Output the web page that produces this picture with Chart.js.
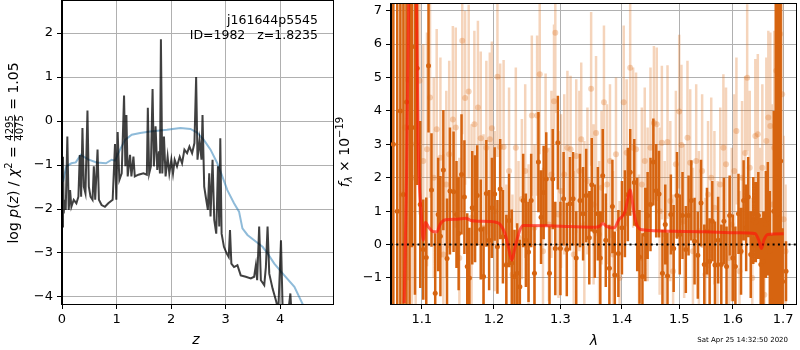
<!DOCTYPE html>
<html>
<head>
<meta charset="utf-8">
<script src="https://cdn.jsdelivr.net/npm/chart.js@4/dist/chart.umd.min.js"></script>
<style>
  body { margin: 0; background: #fff; }
  #wrap { position: relative; width: 800px; height: 350px; }
  #wrap canvas { position: absolute; top: 0; }
</style>
</head>
<body>
<div id="wrap">
  <canvas id="pzChart" width="340" height="350" style="left:0"></canvas>
  <canvas id="specChart" width="470" height="350" style="left:330px"></canvas>
</div>
<script>
// left panel: log p(z) (black) and the smooth curve (blue)
const zGrid = [0.006,0.018,0.031,0.049,0.068,0.098,0.123,0.148,0.172,0.215,
  0.264,0.301,0.326,0.351,0.375,0.400,0.430,0.467,0.492,0.523,
  0.560,0.584,0.609,0.652,0.677,0.726,0.787,0.849,0.929,0.972,
  0.996,1.021,1.052,1.095,1.138,1.162,1.181,1.205,1.248,1.273,
  1.310,1.335,1.402,1.494,1.556,1.574,1.599,1.630,1.661,1.685,
  1.716,1.747,1.777,1.796,1.814,1.839,1.870,1.900,1.937,1.968,
  2.005,2.036,2.066,2.109,2.159,2.202,2.245,2.294,2.337,2.386,
  2.429,2.460,2.485,2.522,2.558,2.577,2.608,2.645,2.675,2.700,
  2.724,2.761,2.792,2.829,2.860,2.884,2.903,2.927,2.970,3.020,
  3.057,3.081,3.106,3.155,3.217,3.278,3.370,3.463,3.524,3.555,
  3.579,3.616,3.647,3.709,3.739,3.770,3.801,3.862,3.924,3.967,
  4.016,4.047,4.139,4.188,4.213];
const logpz = [-2.40,-0.81,-2.10,-1.79,-2.02,-0.35,-2.02,-1.57,-1.95,-1.79,
  -1.87,-1.72,-0.77,-1.72,-0.16,-1.49,-1.64,0.24,-1.49,-1.72,
  -1.79,-1.03,-1.79,-0.65,-1.79,-1.91,-1.95,-1.87,-1.79,-0.52,
  -1.79,-0.25,-1.34,-1.19,0.58,-1.03,0.14,-1.26,-0.77,-1.26,
  -0.81,-1.26,-1.22,-1.19,-1.22,0.30,-1.19,-1.03,0.73,-1.03,
  -0.12,-1.11,-0.69,-1.19,1.86,-1.19,-0.35,-1.26,-0.81,-1.19,
  -0.88,-1.19,-0.88,-1.03,-0.81,-0.96,-0.65,-0.73,-0.58,-0.73,
  -0.50,1.00,-0.88,-0.43,-0.88,0.14,-1.49,-1.79,-2.02,-1.19,
  -2.17,-0.88,-2.25,-2.56,-1.03,-2.40,-0.39,-2.56,-2.86,-3.01,
  -3.09,-2.48,-3.24,-3.32,-3.28,-3.51,-3.54,-3.58,-3.54,-3.28,
  -3.62,-2.40,-3.62,-3.73,-3.32,-2.40,-3.47,-3.81,-4.08,-4.30,
  -2.71,-4.30,-4.46,-3.92,-4.46];
const zSmooth = [0.018,0.080,0.172,0.252,0.344,0.480,0.633,0.806,0.910,0.972,
  1.064,1.156,1.279,1.433,1.617,1.925,2.171,2.355,2.478,2.601,
  2.724,2.848,2.940,3.032,3.155,3.247,3.309,3.401,3.524,3.678,
  3.770,3.893,4.077,4.262,4.416,4.480];
const logSmooth = [-1.38,-1.03,-0.96,-0.94,-0.77,-0.87,-0.94,-0.96,-0.88,-0.90,
  -0.65,-0.43,-0.31,-0.27,-0.24,-0.20,-0.16,-0.18,-0.26,-0.43,
  -0.65,-0.96,-1.26,-1.57,-1.87,-2.06,-2.44,-2.59,-2.71,-2.86,
  -3.01,-3.24,-3.51,-3.77,-4.17,-4.30];
const zTicks = [0, 1, 2, 3, 4];
const pzTicks = [-4, -3, -2, -1, 0, 1, 2];

// right panel: spectrum (dark and light error bars) and model
const lamDark = [1.063,1.068,1.072,1.076,1.080,1.084,1.087,1.091,1.094,1.098,
  1.102,1.106,1.109,1.113,1.118,1.122,1.125,1.129,1.134,1.138,
  1.143,1.147,1.150,1.154,1.158,1.162,1.165,1.169,1.173,1.176,
  1.181,1.185,1.189,1.193,1.197,1.201,1.205,1.209,1.213,1.218,
  1.222,1.226,1.230,1.234,1.238,1.243,1.247,1.251,1.255,1.260,
  1.266,1.270,1.274,1.278,1.283,1.288,1.292,1.296,1.300,1.305,
  1.310,1.315,1.320,1.325,1.331,1.336,1.341,1.346,1.350,1.355,
  1.360,1.364,1.368,1.373,1.379,1.384,1.388,1.394,1.400,1.405,
  1.410,1.414,1.421,1.426,1.430,1.435,1.440,1.444,1.449,1.454,
  1.459,1.464,1.470,1.475,1.479,1.485,1.490,1.496,1.501,1.506,
  1.512,1.517,1.522,1.528,1.534,1.540,1.546,1.551,1.556,1.561,
  1.566,1.572,1.578,1.583,1.588,1.594,1.600,1.605,1.611,1.616,
  1.621,1.626,1.630,1.635,1.640,1.645,1.650,1.655,1.660,1.665,
  1.669,1.673,1.677,1.681,1.685,1.689,1.692,1.695,1.699,1.706];
const fluxDark = [3.0,1.0,4.0,1.50,4.27,3.5,5.92,3.5,5.28,1.2,
  -0.15,-0.39,5.35,1.63,-1.46,0.9,0.25,2.23,-0.42,1.6,
  1.58,0.9,0.33,2.1,1.42,-0.66,-1.0,1.1,1.07,1.47,
  0.45,-0.96,1.53,0.13,1.1,1.51,-0.07,1.66,0.23,-0.61,
  0.72,-0.55,-0.96,-0.86,-1.26,1.32,0.13,-0.22,1.32,-0.86,
  2.47,0.82,1.56,1.96,-0.86,1.96,-0.12,3.05,-0.12,1.37,
  -0.15,1.22,1.37,-0.4,1.32,0.92,1.47,0.2,1.79,0.4,
  0.92,-0.4,2.06,0.13,-0.71,1.14,-0.91,-0.27,0.5,0.92,
  1.5,2.16,1.86,0.6,-0.37,-0.96,0.3,0.87,1.2,2.47,
  1.61,1.51,-0.86,0.6,-0.94,0.9,-0.12,1.47,0.3,0.87,
  -0.15,0.87,1.32,0.1,-0.32,1.24,-0.6,0.4,-0.51,0.7,
  -0.61,0.13,-0.6,0.7,-0.66,0.87,-0.4,-0.66,0.92,-0.2,
  1.32,0.5,1.42,-0.3,0.72,0.67,0.87,-0.6,-0.51,0.6,
  0.77,-0.2,-1.70,1.0,2.0,0.92,5.92,2.5,-1.11,-0.8];
const errDark = [12,12,10,8,8,6,6,5,3.5,2.5,
  1.5,1.8,2.0,1.7,1.8,1.7,1.8,1.8,1.8,1.9,
  1.8,1.6,1.7,1.8,1.7,1.6,1.5,1.7,1.6,1.5,
  1.5,1.5,1.6,1.5,1.5,1.4,1.4,1.5,1.4,1.5,
  1.4,1.6,1.4,1.5,1.4,1.4,1.4,1.5,1.4,1.4,
  1.5,1.4,1.4,1.4,1.4,1.5,1.4,1.4,1.4,1.4,
  1.4,1.4,1.4,1.4,1.4,1.4,1.4,1.4,1.4,1.4,
  1.4,1.4,1.4,1.4,1.3,1.4,1.3,1.3,1.4,1.3,
  1.4,1.3,1.3,1.4,1.4,1.3,1.4,1.3,1.4,1.3,
  1.4,1.3,1.3,1.2,1.3,1.2,1.3,1.3,1.2,1.3,
  1.3,1.2,1.2,1.3,1.3,1.3,1.2,1.3,1.3,1.2,
  1.3,1.3,1.2,1.3,1.2,1.2,1.3,1.2,1.2,1.3,
  1.2,1.3,1.2,1.3,1.3,1.2,1.3,1.4,1.5,1.6,
  1.7,1.8,2.0,3,6,8,10,12,1.6,0.9];

const lamLight = [1.074,1.078,1.082,1.087,1.092,1.097,1.102,1.107,1.111,1.116,
  1.120,1.125,1.129,1.133,1.137,1.142,1.146,1.151,1.155,1.159,
  1.164,1.168,1.172,1.177,1.181,1.185,1.189,1.194,1.197,1.201,
  1.205,1.209,1.214,1.218,1.222,1.227,1.232,1.236,1.241,1.246,
  1.251,1.256,1.260,1.264,1.268,1.273,1.277,1.282,1.286,1.290,
  1.292,1.297,1.301,1.306,1.311,1.316,1.321,1.325,1.330,1.333,
  1.338,1.343,1.349,1.353,1.357,1.362,1.366,1.370,1.375,1.380,
  1.385,1.390,1.396,1.403,1.408,1.414,1.419,1.424,1.429,1.434,
  1.439,1.444,1.449,1.455,1.460,1.465,1.469,1.474,1.479,1.484,
  1.489,1.494,1.500,1.504,1.509,1.515,1.520,1.525,1.531,1.536,
  1.542,1.548,1.553,1.559,1.565,1.571,1.576,1.582,1.587,1.593,
  1.598,1.603,1.607,1.613,1.618,1.624,1.628,1.633,1.638,1.644,
  1.649,1.654,1.658,1.662,1.666,1.670,1.674,1.678,1.682,1.686,
  1.690,1.694,1.698,1.701,1.705];
const fluxLight = [1.5,3.5,4.93,2.0,3.0,4.9,2.5,2.85,4.4,2.0,
  3.45,2.6,-0.3,1.8,2.7,3.74,3.5,-0.4,6.1,4.39,
  4.58,0.8,3.6,4.1,3.18,0.5,2.9,3.15,3.48,1.0,
  5.02,2.92,2.92,-0.6,2.2,-0.9,2.9,0.2,1.36,2.2,
  0.0,3.86,0.5,3.86,5.1,-0.2,2.82,0.6,2.1,4.29,
  6.34,0.9,1.6,2.1,2.9,2.85,-0.3,2.65,2.2,3.15,
  0.6,1.9,4.66,1.2,3.34,0.3,1.7,4.26,1.8,2.5,
  -0.3,2.7,-1.0,4.26,2.75,5.29,2.9,2.85,-0.4,1.8,
  2.5,1.2,2.9,3.64,3.6,1.0,3.05,0.3,3.07,1.3,
  -0.8,2.4,3.98,2.98,0.7,3.2,2.45,-0.2,2.5,0.4,
  2.2,-0.9,1.5,2.0,1.1,-0.6,1.8,2.9,2.4,-0.4,
  0.6,2.2,3.4,-0.8,2.0,2.74,4.99,2.3,-1.0,3.25,
  3.3,0.5,2.3,-1.5,3.1,3.8,3.55,1.2,2.9,5.2,
  3.3,6.3,4.5,0.76,-0.2];
const errLight = [6,7,6,6,5,4,3.5,3.5,3.0,3.0,
  3.0,3.0,3.0,2.8,2.8,2.8,3.0,3.0,2.8,2.6,
  2.6,2.8,2.8,2.6,2.6,2.8,2.6,2.6,2.6,2.4,
  2.4,2.5,2.6,2.4,2.5,2.4,2.4,2.3,2.4,2.6,
  2.4,2.4,2.5,2.4,2.4,2.5,2.3,2.3,2.5,2.3,
  2.4,2.5,2.3,2.4,2.3,2.2,2.5,2.3,2.4,2.3,
  2.5,2.2,2.3,2.4,2.3,2.2,2.3,2.3,2.4,2.3,
  2.5,2.3,2.3,2.3,2.2,2.3,2.4,2.3,2.5,2.3,
  2.2,2.3,2.4,2.3,2.3,2.5,2.3,2.2,2.3,2.4,
  2.3,2.2,2.3,2.4,2.3,2.3,2.2,2.5,2.3,2.4,
  2.3,2.3,2.2,2.4,2.3,2.5,2.3,2.2,2.3,2.4,
  2.3,2.3,2.2,2.4,2.3,2.3,2.2,2.3,2.4,2.3,
  2.4,2.4,2.5,2.5,2.5,2.6,2.8,3.0,3.5,4.5,
  6,8,8,2.5,2.0];

const lamModel = [1.077,1.080,1.083,1.088,1.093,1.095,1.0996,1.102,1.105,1.109,
  1.116,1.120,1.125,1.132,1.148,1.160,1.167,1.176,1.194,1.204,
  1.209,1.216,1.221,1.226,1.231,1.238,1.243,1.284,1.314,1.357,
  1.363,1.368,1.374,1.380,1.387,1.395,1.405,1.409,1.414,1.417,
  1.423,1.432,1.490,1.549,1.611,1.643,1.651,1.656,1.661,1.669,
  1.701];
const fluxModel = [-1.75,2.0,7.5,9.0,7.5,3.3,0.82,0.13,0.67,0.52,
  0.38,0.38,0.62,0.74,0.76,0.79,0.72,0.70,0.69,0.66,
  0.60,0.33,-0.07,-0.47,-0.07,0.43,0.57,0.56,0.54,0.52,
  0.55,0.63,0.55,0.50,0.50,0.75,0.97,1.30,1.64,1.35,
  0.72,0.45,0.40,0.38,0.35,0.33,0.13,-0.12,0.13,0.30,
  0.32];
const lamTicks = [1.1, 1.2, 1.3, 1.4, 1.5, 1.6, 1.7];
const fluxTicks = [-1, 0, 1, 2, 3, 4, 5, 6, 7];

const FONT = 'DejaVu Sans';
Chart.defaults.font.family = FONT;
Chart.defaults.color = '#000';

const minus = v => String(v).replace('-', '\u2212');
const gridOpts = { color: '#b0b0b0', lineWidth: 1, tickColor: '#000', tickLength: 5 };
const borderOpts = { display: true, color: '#000', width: 1 };

function xy(xs, ys) {
  return xs.map((x, i) => ({ x: x, y: ys[i] }));
}

function errorBars(xs, ys, es) {
  const pts = [];
  xs.forEach((x, i) => {
    pts.push({ x: x, y: ys[i] - es[i] }, { x: x, y: ys[i] + es[i] }, { x: x, y: null });
  });
  return pts;
}

// keep the plot box exactly where the axis sizes put it
function fitX(s) { s.height = 46; s.paddingLeft = 0; s.paddingRight = 0; }
function fitY(w) { return s => { s.width = w; s.paddingTop = 0; s.paddingBottom = 0; }; }

function runsWidth(ctx, runs) {
  let w = 0;
  for (const r of runs) {
    ctx.font = r.font;
    if (r.num) w += Math.max(ctx.measureText(r.num).width, ctx.measureText(r.den).width) + 2;
    else w += ctx.measureText(r.text).width;
  }
  return w;
}

// draws a rotated label made of styled pieces, centred on y
function drawVerticalRuns(ctx, runs, x, y) {
  ctx.save();
  ctx.translate(x, y);
  ctx.rotate(-Math.PI / 2);
  ctx.fillStyle = '#000';
  ctx.textBaseline = 'alphabetic';
  let tx = -runsWidth(ctx, runs) / 2;
  for (const r of runs) {
    ctx.font = r.font;
    if (r.num) {
      const w = Math.max(ctx.measureText(r.num).width, ctx.measureText(r.den).width) + 2;
      ctx.textAlign = 'center';
      ctx.fillText(r.num, tx + w / 2, -5);
      ctx.fillText(r.den, tx + w / 2, 5);
      ctx.fillRect(tx + 0.5, -4, w - 1, 0.8);
      ctx.textAlign = 'left';
      tx += w;
    } else {
      ctx.textAlign = 'left';
      ctx.fillText(r.text, tx, r.dy || 0);
      tx += ctx.measureText(r.text).width;
    }
  }
  ctx.restore();
}

function drawFrame(chart) {
  const { ctx, chartArea: a } = chart;
  ctx.save();
  ctx.strokeStyle = '#000';
  ctx.lineWidth = 1;
  ctx.strokeRect(Math.round(a.left) - 0.5, Math.round(a.top) - 0.5,
    Math.round(a.right - a.left) + 1, Math.round(a.bottom - a.top) + 1);
  ctx.restore();
}

const N14 = '14px ' + FONT, I14 = 'italic 14px ' + FONT;
const N10 = '10px ' + FONT, I10 = 'italic 10px ' + FONT;

const pzLabels = {
  id: 'pzLabels',
  afterDraw(chart) {
    const ctx = chart.ctx;
    drawFrame(chart);
    drawVerticalRuns(ctx, [
      { text: 'log ', font: N14 }, { text: 'p', font: I14 }, { text: '(', font: N14 },
      { text: 'z', font: I14 }, { text: ') / ', font: N14 }, { text: '\u03c7', font: I14 },
      { text: '2', font: N10, dy: -6 }, { text: ' = ', font: N14 },
      { num: '4295', den: '4075', font: N10 }, { text: ' = 1.05', font: N14 }
    ], 18, 153);
    ctx.save();
    ctx.fillStyle = '#000';
    ctx.font = I14;
    ctx.textAlign = 'center';
    ctx.fillText('z', 196, 344);
    ctx.font = '12.5px ' + FONT;
    ctx.textAlign = 'right';
    ctx.fillText('j161644p5545', 318, 24);
    ctx.fillText('ID=1982   z=1.8235', 318, 39);
    ctx.restore();
  }
};

const specLabels = {
  id: 'specLabels',
  afterDraw(chart) {
    const ctx = chart.ctx;
    drawFrame(chart);
    drawVerticalRuns(ctx, [
      { text: 'f', font: I14 }, { text: '\u03bb', font: I10, dy: 3 },
      { text: ' \u00d7 10', font: N14 }, { text: '\u221219', font: N10, dy: -6 }
    ], 19, 152);
    ctx.save();
    ctx.fillStyle = '#000';
    ctx.font = I14;
    ctx.textAlign = 'center';
    ctx.fillText('\u03bb', 264, 345);
    ctx.font = '7px ' + FONT;
    ctx.textAlign = 'right';
    ctx.fillText('Sat Apr 25 14:32:50 2020', 458, 342);
    ctx.restore();
  }
};

new Chart(document.getElementById('pzChart'), {
  type: 'line',
  data: {
    datasets: [
      { data: xy(zGrid, logpz), borderColor: 'rgba(0,0,0,0.75)', borderWidth: 2,
        pointRadius: 0, order: 0 },
      { data: xy(zSmooth, logSmooth), borderColor: 'rgba(31,119,180,0.5)', borderWidth: 2,
        pointRadius: 0, order: 1 }
    ]
  },
  options: {
    responsive: false,
    animation: false,
    layout: { padding: { top: 1, right: 7, left: 0, bottom: 0 } },
    plugins: { legend: { display: false }, tooltip: { enabled: false } },
    scales: {
      x: {
        type: 'linear', min: 0, max: 4.97,
        afterBuildTicks: s => { s.ticks = zTicks.map(v => ({ value: v })); },
        afterFit: fitX,
        grid: gridOpts, border: borderOpts,
        ticks: { font: { size: 13 }, padding: 3, maxRotation: 0, callback: minus }
      },
      y: {
        min: -4.16, max: 2.73,
        afterBuildTicks: s => { s.ticks = pzTicks.map(v => ({ value: v })); },
        afterFit: fitY(62),
        grid: gridOpts, border: borderOpts,
        ticks: { font: { size: 13 }, padding: 4, callback: minus }
      }
    }
  },
  plugins: [pzLabels]
});

const darkCol = 'rgb(214,100,16)';
const lightCol = 'rgba(222,112,30,0.3)';

new Chart(document.getElementById('specChart'), {
  type: 'line',
  data: {
    datasets: [
      { data: xy(lamModel, fluxModel), borderColor: 'rgba(255,20,10,0.65)', borderWidth: 3,
        pointRadius: 0, cubicInterpolationMode: 'monotone', clip: 0, order: 0 },
      { data: [{ x: 1.06, y: 0 }, { x: 1.7266, y: 0 }], borderColor: '#000', borderWidth: 2,
        borderDash: [2, 3.3], pointRadius: 0, order: 1 },
      { data: xy(lamDark, fluxDark), showLine: false, pointRadius: 2.5, pointBorderWidth: 0,
        pointBackgroundColor: darkCol, clip: 0, order: 2 },
      { data: errorBars(lamDark, fluxDark, errDark), borderColor: darkCol, borderWidth: 2.5,
        pointRadius: 0, borderCapStyle: 'butt', clip: 0, order: 3 },
      { data: xy(lamLight, fluxLight), showLine: false, pointRadius: 3, pointBorderWidth: 0,
        pointBackgroundColor: lightCol, clip: 0, order: 4 },
      { data: errorBars(lamLight, fluxLight, errLight), borderColor: lightCol, borderWidth: 2.5,
        pointRadius: 0, borderCapStyle: 'butt', clip: 0, order: 5 }
    ]
  },
  options: {
    responsive: false,
    animation: false,
    layout: { padding: { top: 1, right: 1, left: 0, bottom: 0 } },
    plugins: { legend: { display: false }, tooltip: { enabled: false } },
    scales: {
      x: {
        type: 'logarithmic', min: 1.06, max: 1.7266,
        afterBuildTicks: s => { s.ticks = lamTicks.map(v => ({ value: v })); },
        afterFit: fitX,
        grid: gridOpts, border: borderOpts,
        ticks: { font: { size: 13 }, padding: 3, maxRotation: 0, autoSkip: false,
          callback: v => Number(v).toFixed(1) }
      },
      y: {
        min: -1.78, max: 7.2,
        afterBuildTicks: s => { s.ticks = fluxTicks.map(v => ({ value: v })); },
        afterFit: fitY(61),
        grid: gridOpts, border: borderOpts,
        ticks: { font: { size: 13 }, padding: 4, callback: minus }
      }
    }
  },
  plugins: [specLabels]
});
</script>
</body>
</html>
